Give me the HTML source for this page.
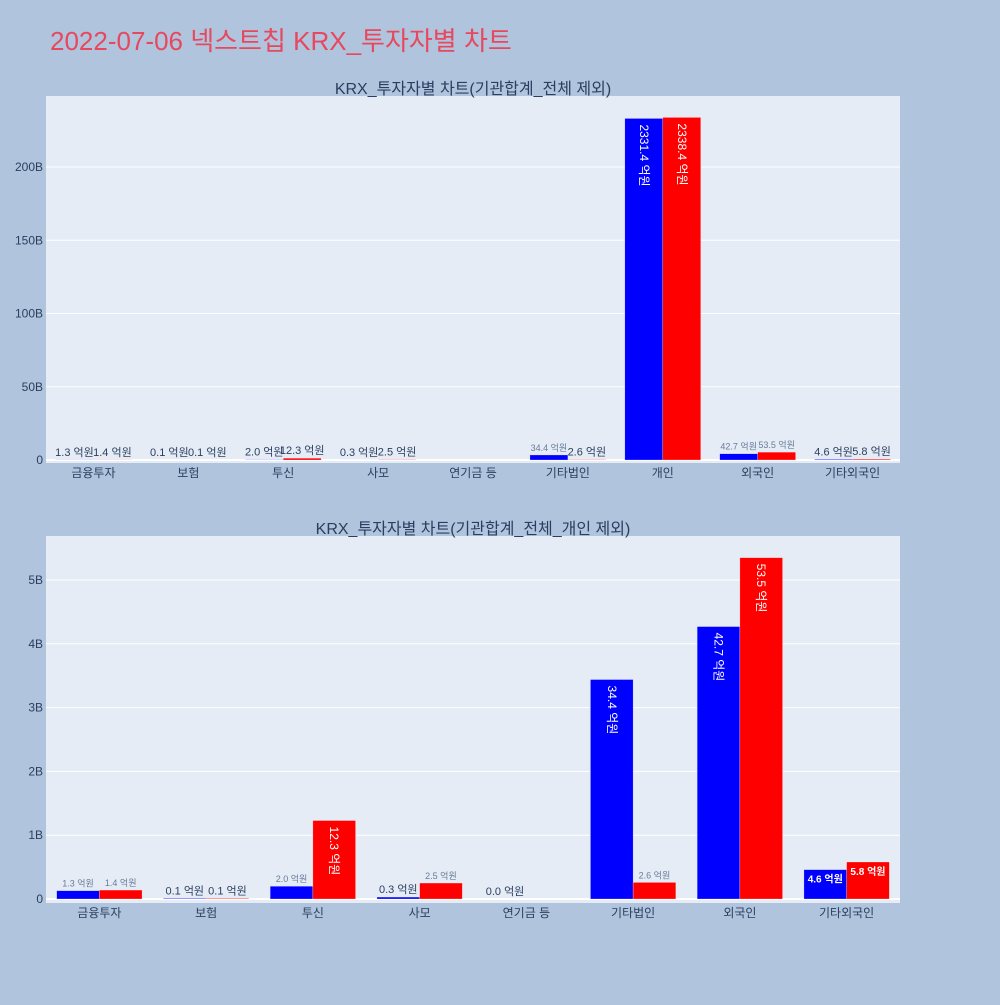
<!DOCTYPE html>
<html><head><meta charset="utf-8">
<style>
body{margin:0;background:#b0c4de;font-family:"Liberation Sans","Noto Sans CJK KR",sans-serif;}
svg text{font-family:"Liberation Sans","Noto Sans CJK KR",sans-serif;}
</style></head>
<body>
<svg id="chart" width="1000" height="1000" xmlns="http://www.w3.org/2000/svg">
<rect width="1000" height="1000" fill="#b0c4de"/>
<text x="50" y="50" font-size="26" fill="#e8485d">2022-07-06 넥스트칩 KRX_투자자별 차트</text>
</svg>
<script>
const cats1 = ['금융투자','보험','투신','사모','연기금 등','기타법인','개인','외국인','기타외국인'];
const blue1 = [0.13,0.01,0.20,0.03,0,3.44,233.14,4.27,0.46];
const red1 = [0.14,0.01,1.23,0.25,0,0.26,233.84,5.35,0.58];
const lblBlue1 = ['1.3 억원','0.1 억원','2.0 억원','0.3 억원','','34.4 억원','2331.4 억원','42.7 억원','4.6 억원'];
const lblRed1 = ['1.4 억원','0.1 억원','12.3 억원','2.5 억원','','2.6 억원','2338.4 억원','53.5 억원','5.8 억원'];
const ticks1 = [0,50,100,150,200];
const tickLbl1 = ['0','50B','100B','150B','200B'];

const cats2 = ['금융투자','보험','투신','사모','연기금 등','기타법인','외국인','기타외국인'];
const blue2 = [0.13,0.01,0.20,0.03,0.00,3.44,4.27,0.46];
const red2 = [0.14,0.01,1.23,0.25,0,0.26,5.35,0.58];
const lblBlue2 = ['1.3 억원','0.1 억원','2.0 억원','0.3 억원','0.0 억원','34.4 억원','42.7 억원','4.6 억원'];
const lblRed2 = ['1.4 억원','0.1 억원','12.3 억원','2.5 억원','','2.6 억원','53.5 억원','5.8 억원'];
const ticks2 = [0,1,2,3,4,5];
const tickLbl2 = ['0','1B','2B','3B','4B','5B'];

const svg = document.getElementById('chart');
const NS = 'http://www.w3.org/2000/svg';
function mk(tag, attrs, parent){
  const e = document.createElementNS(NS, tag);
  for (const k in attrs) e.setAttribute(k, attrs[k]);
  (parent||svg).appendChild(e);
  return e;
}
function drawChart(o){
  const g = mk('g', {});
  
  
  const bg = mk('rect', {x:o.x0, y:o.top, width:o.x1-o.x0, height:o.bottom-o.top, fill:'#e5ecf6'}, g);
  
  
  const yS = v => o.zeroY - v * o.pxPerUnit;
  const band = (o.x1 - o.x0) / o.cats.length;
  const bw = band * 0.4;
  o.ticks.forEach((t,i)=>{
    const y = yS(t);
    const ln = mk('line', {x1:o.x0, x2:o.x1, y1:y, y2:y, stroke:'#fff', 'stroke-width': t===0?2:1}, g);
    
    
    const tl = mk('text', {x:o.x0-3, y:y+4, 'text-anchor':'end', 'font-size':12, fill:'#2a3f5f'}, g);
    tl.textContent = o.tickLbl[i];
    
    
  });
  const title = mk('text', {x:(o.x0+o.x1)/2, y:o.top-2, 'text-anchor':'middle', 'font-size':16, fill:'#2a3f5f'}, g);
  title.textContent = o.title;
  
  
  o.cats.forEach((c,i)=>{
    const cx = o.x0 + band*(i+0.5);
    const xl = mk('text', {x:cx, y:o.bottom+14, 'text-anchor':'middle', 'font-size':12, fill:'#2a3f5f'}, g);
    xl.textContent = c;
    
    
    [[o.blue, o.lblBlue, '#0000ff', cx-bw],[o.red, o.lblRed, '#ff0000', cx]].forEach(([vals, lbls, col, bx])=>{
      const v = vals[i];
      const yTop = yS(v);
      const h = o.zeroY - yTop;
      const r = mk('rect', {x:bx, y:yTop, width:bw, height:Math.max(h,0), fill:col, stroke:'rgba(255,255,255,0.5)', 'stroke-width':0.5}, g);
      
      
      const lbl = lbls[i];
      if (!lbl) return;
      let t;
      if (h > 70) {
        t = mk('text', {x:0, y:0, 'font-size':12, fill:'#fff', transform:`translate(${bx+bw/2-4},${yTop+6}) rotate(90)`}, g);
      } else if (h > 20) {
        t = mk('text', {x:bx+bw/2, y:yTop+13, 'text-anchor':'middle', 'font-size':10, 'font-weight':'bold', fill:'#fff'}, g);
      } else {
        const small = h > 3;
        t = mk('text', {x:bx+bw/2, y:yTop-4, 'text-anchor':'middle', 'font-size': small?9:11, fill: small?'#687c9a':'#2a3f5f'}, g);
      }
      t.textContent = lbl;
      
      
    });
  });
}
drawChart({name:'top-chart', x0:46, x1:900, top:96, bottom:463, zeroY:460, pxPerUnit:293/200,
  cats:cats1, blue:blue1, red:red1, lblBlue:lblBlue1, lblRed:lblRed1, ticks:ticks1, tickLbl:tickLbl1,
  title:'KRX_투자자별 차트(기관합계_전체 제외)'});
drawChart({name:'bottom-chart', x0:46, x1:900, top:536, bottom:903, zeroY:899, pxPerUnit:63.8,
  cats:cats2, blue:blue2, red:red2, lblBlue:lblBlue2, lblRed:lblRed2, ticks:ticks2, tickLbl:tickLbl2,
  title:'KRX_투자자별 차트(기관합계_전체_개인 제외)'});
</script>
</body></html>
